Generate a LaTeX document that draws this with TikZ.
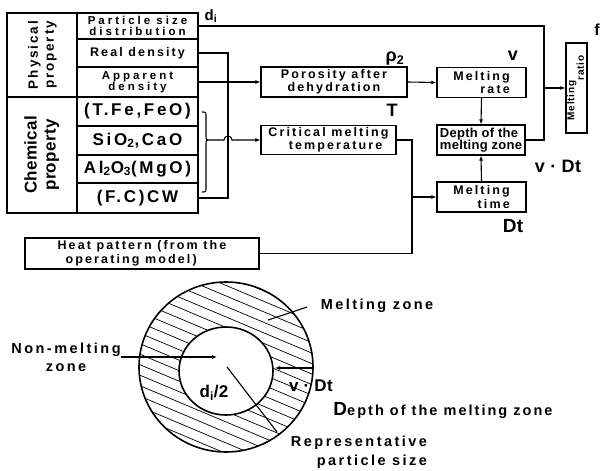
\documentclass[tikz,border=0pt]{standalone}
\usepackage{fontspec}
\setmainfont{Liberation Sans}
\newfontfamily\fA{Liberation Sans}[LetterSpace=17]
\newfontfamily\fB{Liberation Sans}[LetterSpace=16]
\newfontfamily\fC{Liberation Sans}[LetterSpace=2]
\newfontfamily\fD{Liberation Sans}[LetterSpace=26]
\newfontfamily\fE{Liberation Sans}[LetterSpace=17]
\newfontfamily\fF{Liberation Sans}[LetterSpace=14]
\newfontfamily\fG{Liberation Sans}[LetterSpace=8]
\usetikzlibrary{arrows.meta}
\begin{document}
\begin{tikzpicture}[x=1pt,y=-1pt,
  bx/.style={draw,line width=1.2pt,inner sep=0pt,align=center},
  tx/.style={font=\fA\bfseries\fontsize{12.5}{13.5}\selectfont},
  smalltx/.style={font=\fD\bfseries\fontsize{11.5}{11.5}\selectfont},
  cell/.style={bx,tx,minimum width=121pt},
  chemcell/.style={bx,minimum width=121pt,font=\fB\bfseries\fontsize{17}{18}\selectfont},
  lab/.style={inner sep=0pt,font=\fC\bfseries\fontsize{18}{19}\selectfont},
  ann/.style={inner sep=0pt,font=\fE\bfseries\fontsize{14.5}{19}\selectfont},
  ln/.style={line width=1.1pt},
  arr/.style={ln,-{Latex[length=5pt,width=4pt]}},
]
\useasboundingbox (0,0) rectangle (600,471);

% ---- property table ----
\node[bx,line width=1.5pt,minimum width=70pt,minimum height=84pt,font=\fF\bfseries\fontsize{13.5}{19}\selectfont] (phys) at (42,55)
  {\rotatebox{90}{\begin{tabular}{@{}c@{}}Physical\\[-3pt]property\end{tabular}}};
\node[bx,line width=1.5pt,minimum width=70pt,minimum height=116pt,font=\fC\bfseries\fontsize{17}{21}\selectfont] (chem) at (42,155)
  {\rotatebox{90}{\begin{tabular}{@{}c@{}}Chemical\\[-2pt]property\end{tabular}}};
\node[cell,smalltx,minimum height=26pt] (psd) at (137.5,26) {Particle size\\distribution};
\node[cell,minimum height=28pt] (rd) at (137.5,53) {Real density};
\node[cell,smalltx,minimum height=30pt] (ad) at (137.5,82) {Apparent\\density};
\node[chemcell,minimum height=29pt] (tfe) at (137.5,111.5) {(T.Fe,FeO)};
\node[chemcell,minimum height=29pt] (sio) at (137.5,140.5) {SiO\textsubscript{2},CaO};
\node[chemcell,minimum height=28pt] (al) at (137.5,169) {Al\textsubscript{2}O\textsubscript{3}(MgO)};
\node[chemcell,minimum height=30pt] (fc) at (137.5,198) {(F.C)CW};

% ---- process boxes ----
\node[bx,tx,minimum width=146pt,minimum height=30pt] (poro) at (334,82) {Porosity after\\dehydration};
\node[bx,tx,minimum width=135pt,minimum height=29pt] (crit) at (328.5,140) {Critical melting\\\hspace*{14pt}temperature};
\node[bx,tx,align=right,minimum width=89pt,minimum height=30pt] (mrate) at (481.5,82.5) {Melting\\rate};
\node[bx,minimum width=88pt,minimum height=30pt,font=\fC\bfseries\fontsize{13}{12.5}\selectfont,align=left] (depth) at (481,140) {Depth of the\\melting zone};
\node[bx,tx,align=right,minimum width=89pt,minimum height=30pt] (mtime) at (481.5,197) {Melting\\time};
\node[bx,minimum width=21pt,minimum height=90pt,font=\fG\bfseries\fontsize{10}{8.5}\selectfont] (ratio) at (576.5,88)
  {\rotatebox{90}{\renewcommand\arraystretch{0.8}\begin{tabular}{@{}l@{}}Melting\\\phantom{Melting}ratio\end{tabular}}};
\node[bx,tx,align=left,minimum width=234pt,minimum height=31pt] (heat) at (142,253.5) {Heat pattern (from the\\\hspace*{8pt}operating model)};

% ---- variable labels ----
\node[lab,font=\fC\bfseries\fontsize{15}{16}\selectfont] (di) at (211,16) {d\textsubscript{i}};
\node[lab] (rho) at (395,59) {ρ\textsubscript{2}};
\node[lab] (tl) at (392,110) {T};
\node[lab] (vl) at (513,56) {v};
\node[lab,font=\fC\bfseries\fontsize{16}{16}\selectfont] (fl) at (597,30) {f};
\node[lab] (vdt) at (558,166) {v · Dt};
\node[lab,font=\fC\bfseries\fontsize{19}{19}\selectfont] (dtl) at (513,226) {Dt};

% ---- connectors ----
\coordinate (jTop) at (544,26);
\coordinate (jBot) at (544,140);
\coordinate (jMid) at (544,88);
\draw[ln] (psd.east) -- (jTop) -- (jBot) -- (depth.east);
\draw[arr] (jMid) -- (ratio.west);

\coordinate (jA) at (228,53);
\coordinate (jB) at (228,198);
\draw[ln] (rd.east) -- (jA) -- (jB) -- (fc.east);
\draw[arr] (ad.east) -- (poro.west);

\coordinate (brTop) at (202,112);
\coordinate (brBot) at (202,192);
\coordinate (brT) at (210,140);
\draw[ln] (brTop) .. controls (206,112) .. (206,117) -- (206,135) .. controls (206,140) .. (brT)
  .. controls (206,140) .. (206,145) -- (206,187) .. controls (206,192) .. (brBot);
\draw[arr] (brT) -- (224,140) arc[start angle=180,end angle=360,radius=4] -- (crit.west);

\draw[arr] (poro.east) -- (mrate.west);
\draw[arr] (mrate.south) -- (depth.north);
\draw[arr] (mtime.north) -- (depth.south);

\coordinate (jC) at (412,140);
\coordinate (jD) at (412,253.5);
\coordinate (jE) at (412,197);
\draw[ln] (crit.east) -- (jC) -- (jD) -- (heat.east);
\draw[arr] (jE) -- (mtime.west);

% ---- particle cross-section ----
\begin{scope}
  \clip (226,367) ellipse [x radius=87, y radius=85];
  \foreach \k in {0,...,34}
    \draw[line width=0.7pt] (130,{140+\k*10.5}) -- (320,{140+\k*10.5+80});
\end{scope}
\fill[white] (226,371) ellipse [x radius=47, y radius=44];
\draw[line width=1.6pt] (226,367) ellipse [x radius=87, y radius=85];
\draw[line width=1.6pt] (226,371) ellipse [x radius=47, y radius=44];

\node[ann,align=center,font=\fE\bfseries\fontsize{14.5}{18}\selectfont] (nm) at (66,357) {Non-melting\\zone};
\coordinate (cen) at (217,357);
\draw[arr] (nm.east) -- (cen);

\coordinate (rO) at (313,368);
\coordinate (rI) at (275,368);
\draw[arr] (rO) -- (rI);

\coordinate (cC) at (227,367);
\coordinate (rE) at (277,432);
\draw[ln] (cC) -- (rE);

\node[ann] (mz) at (377,306) {Melting zone};
\coordinate (mzA) at (268,320);
\coordinate (mzB) at (307,307);
\draw[ln] (mzA) -- (mzB);

\node[inner sep=0pt,font=\fC\bfseries\fontsize{17}{17}\selectfont] (dh) at (214,393) {d\textsubscript{i}/2};
\node[lab,font=\fC\bfseries\fontsize{17}{17}\selectfont] (vdt2) at (311,386) {v · Dt};
\node[inner sep=0pt,font=\fF\bfseries\fontsize{14.5}{15}\selectfont] (dm) at (443,410) {{\fontsize{19}{19}\selectfont D}epth of the melting zone};
\node[ann,align=right] (rep) at (359,452) {Representative\\particle size};
\end{tikzpicture}
\end{document}
